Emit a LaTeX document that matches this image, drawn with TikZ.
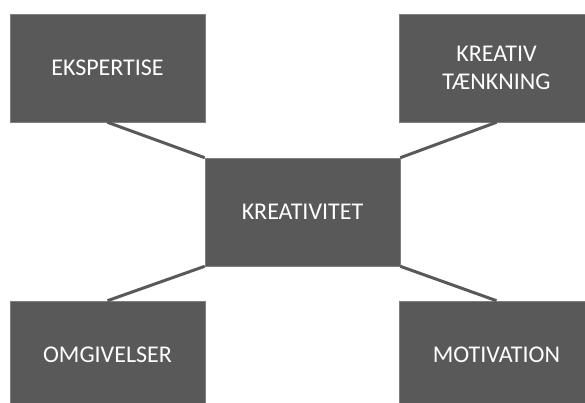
\documentclass[tikz,border=0pt]{standalone}
\usepackage{fontspec}
\setmainfont{Carlito}
\usepackage{xcolor}
\usepackage{tikz}
\definecolor{kreagray}{HTML}{595959}
\definecolor{kreaedge}{HTML}{7F7F7F}
\tikzset{
  kbox/.style={fill=kreagray, draw=kreaedge, line width=0.6pt, minimum width=195pt, minimum height=108pt,
    inner sep=0pt, text=white, align=center, font=\fontsize{24}{28}\selectfont},
  kline/.style={draw=kreagray, line width=3pt}
}
\begin{document}
\begin{tikzpicture}[x=1pt, y=-1pt]
\useasboundingbox (0,0) rectangle (585,403);
\clip (0,0) rectangle (585,403);
\node[kbox] (ekspertise) at (107.5,68) {EKSPERTISE};
\node[kbox] (taenkning) at (496.5,68) {KREATIV\\T\AE NKNING};
\node[kbox] (kreativitet) at (302.5,212) {KREATIVITET};
\node[kbox] (omgivelser) at (107.5,355) {OMGIVELSER};
\node[kbox] (motivation) at (496.5,355) {MOTIVATION};
% forbindelser til midten
\draw[kline] (ekspertise.south) -- (kreativitet.north west);
\draw[kline] (taenkning.south) -- (kreativitet.north east);
\draw[kline] (omgivelser.north) -- (kreativitet.south west);
\draw[kline] (motivation.north) -- (kreativitet.south east);
\end{tikzpicture}
\end{document}
